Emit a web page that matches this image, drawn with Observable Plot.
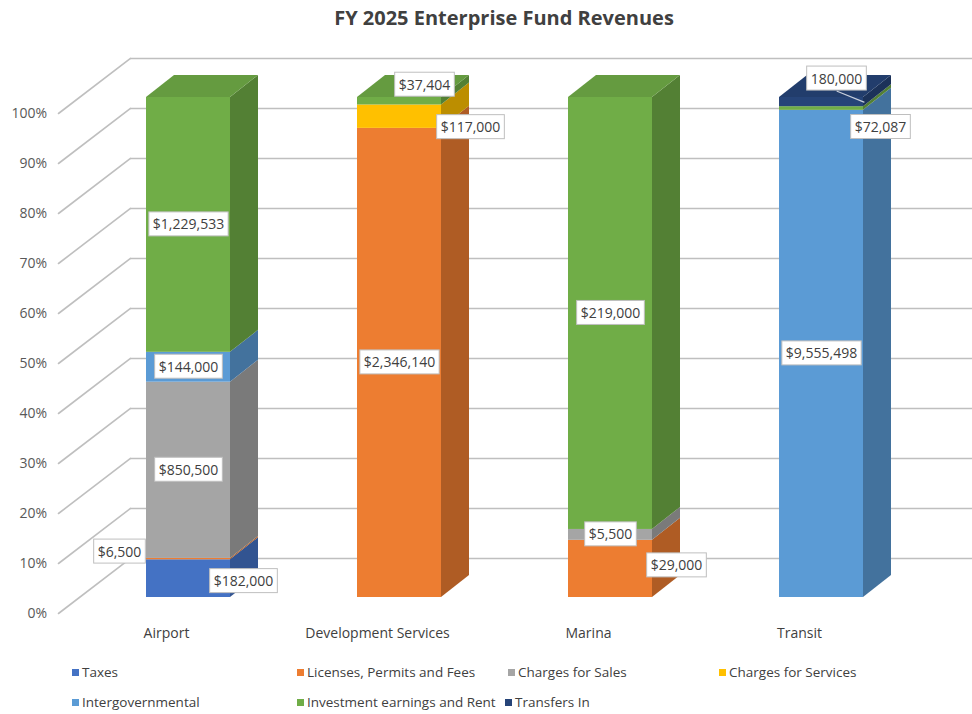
<!DOCTYPE html>
<html><head><meta charset="utf-8">
<script src="https://cdn.jsdelivr.net/npm/d3@7"></script>
<script src="https://cdn.jsdelivr.net/npm/@observablehq/plot@0.6"></script>
<style>
body{margin:0;background:#fff;overflow:hidden;font-family:"Open Sans",sans-serif;}
#title{width:972px;height:36px;box-sizing:border-box;padding-left:36px;text-align:center;font-weight:bold;font-size:20px;line-height:36px;color:#404040;}
#legend{position:relative;width:972px;height:58px;font-size:13.5px;color:#404040;}
.li{position:absolute;display:flex;align-items:center;white-space:nowrap;line-height:16px;}
.sw{width:7px;height:7px;margin-right:3px;}
</style></head><body>
<div id="title">FY 2025 Enterprise Fund Revenues</div>
<div id="chart"></div>
<div id="legend"></div>
<script>
// ---- data ----
const categories = ["Airport", "Development Services", "Marina", "Transit"];
const series = ["Taxes", "Licenses, Permits and Fees", "Charges for Sales", "Charges for Services",
  "Intergovernmental", "Investment earnings and Rent", "Transfers In"];
const airport = [182000, 6500, 850500, 0, 144000, 1229533, 0];
const developmentServices = [0, 2346140, 0, 117000, 0, 37404, 0];
const marina = [0, 29000, 5500, 0, 0, 219000, 0];
const transit = [0, 0, 0, 0, 9555498, 72087, 180000];
const yTicks = [0, 0.1, 0.2, 0.3, 0.4, 0.5, 0.6, 0.7, 0.8, 0.9, 1];
const colors = ["#4472C4", "#ED7D31", "#A5A5A5", "#FFC000", "#5B9BD5", "#70AD47", "#264478"];

// ---- label placement (offsets from segment centre, px) ----
const labelNudge = {
  "Airport|Taxes": [55, 3],
  "Airport|Licenses, Permits and Fees": [-69, -7],
  "Development Services|Investment earnings and Rent": [25, -16],
  "Development Services|Charges for Services": [71, 11],
  "Marina|Licenses, Permits and Fees": [66, -3],
  "Transit|Investment earnings and Rent": [59, 19],
  "Transit|Transfers In": [15, -23]
};
const legendLayout = [[72, 8], [297, 8], [508, 8], [719, 8], [72, 38], [297, 38], [505, 38]];

const byCategory = [airport, developmentServices, marina, transit];
const rows = [];
categories.forEach((c, ci) => series.forEach((s, si) => {
  const v = byCategory[ci][si];
  if (v > 0) rows.push({category: c, series: s, value: v,
    label: (s === "Transfers In" ? "" : "$") + d3.format(",")(v)});
}));
const key = d => d.category + "|" + d.series;

const D = 28, H = 22; // 3D depth
const grid = "#bfbfbf";

function faces3d(index, scales, values, dimensions, context, next) {
  const g = next(index, scales, values, dimensions, context);
  const ns = "http://www.w3.org/2000/svg";
  const rects = Array.from(g.querySelectorAll("rect"));
  const top = new Map();
  for (const r of rects) {
    const x = +r.getAttribute("x"), y = +r.getAttribute("y");
    if (!top.has(x) || y < top.get(x).y) top.set(x, {y, r});
  }
  for (const r of rects) {
    const x = +r.getAttribute("x"), y = +r.getAttribute("y");
    const w = +r.getAttribute("width"), h = +r.getAttribute("height");
    const fill = r.getAttribute("fill");
    const p = document.createElementNS(ns, "path");
    p.setAttribute("d", `M${x + w},${y + h}L${x + w + D},${y + h - H}L${x + w + D},${y - H}L${x + w},${y}Z`);
    p.setAttribute("fill", d3.color(fill).darker(0.85).formatHex());
    g.appendChild(p);
  }
  for (const {r} of top.values()) {
    const x = +r.getAttribute("x"), y = +r.getAttribute("y");
    const w = +r.getAttribute("width");
    const fill = r.getAttribute("fill");
    const p = document.createElementNS(ns, "path");
    p.setAttribute("d", `M${x},${y}L${x + D},${y - H}L${x + w + D},${y - H}L${x + w},${y}Z`);
    p.setAttribute("fill", d3.color(fill).darker(0.3).formatHex());
    g.appendChild(p);
  }
  return g;
}

const stackOpts = {x: "category", y: "value", z: "series", offset: "normalize", order: series};
const textStyle = {text: "label", fontSize: 14, fill: "#404040", className: "lbl"};

const labelMarks = [
  Plot.text(rows, Plot.filter(d => !labelNudge[key(d)], Plot.stackY({...stackOpts, ...textStyle})))
];
for (const k of Object.keys(labelNudge)) {
  const [dx, dy] = labelNudge[k];
  labelMarks.push(Plot.text(rows, Plot.filter(d => key(d) === k, Plot.stackY({...stackOpts, ...textStyle, dx, dy}))));
}

const chart = Plot.plot({
  width: 972,
  height: 620,
  marginTop: 61,
  marginBottom: 59,
  marginLeft: 81.5,
  marginRight: 44,
  style: {fontFamily: "Open Sans", background: "white"},
  x: {type: "band", domain: categories, paddingInner: 0.6, paddingOuter: 0.3, label: null},
  y: {domain: [0, 1], label: null},
  color: {domain: series, range: colors},
  marks: [
    Plot.ruleY(yTicks, {dx: 48.5, dy: -39, stroke: grid, strokeWidth: 1.6}),
    Plot.vector(yTicks, {y: d => d, frameAnchor: "left", anchor: "start", length: 90.6, rotate: 52.6,
      dx: -23.5, dy: 16, r: 0, stroke: grid, strokeWidth: 1.6}),
    Plot.axisY(yTicks, {tickFormat: d3.format(".0%"), tickSize: 0, tickPadding: 0, dx: -35, dy: 16,
      fontSize: 14, color: "#595959", label: null}),
    Plot.axisX({tickSize: 0, tickPadding: 31, dx: -22, fontSize: 14, color: "#404040", label: null}),
    Plot.barY(rows, Plot.stackY({...stackOpts, fill: "series", render: faces3d})),
    Plot.vector(rows, Plot.filter(d => key(d) === "Transit|Transfers In",
      Plot.stackY({...stackOpts, anchor: "start", length: 29, rotate: -68, dx: 42.5, r: 0,
        stroke: "#c8cfdc", strokeWidth: 1.2}))),
    ...labelMarks
  ]
});
document.getElementById("chart").appendChild(chart);

// white boxes behind data labels
for (const t of chart.querySelectorAll(".lbl text")) {
  const bb = t.getBBox();
  const r = document.createElementNS("http://www.w3.org/2000/svg", "rect");
  r.setAttribute("x", bb.x - 4);
  r.setAttribute("y", bb.y - 2.5);
  r.setAttribute("width", bb.width + 8);
  r.setAttribute("height", bb.height + 5);
  r.setAttribute("fill", "white");
  r.setAttribute("stroke", "#bfbfbf");
  r.setAttribute("stroke-width", 1);
  if (t.getAttribute("transform")) r.setAttribute("transform", t.getAttribute("transform"));
  t.parentNode.insertBefore(r, t);
}

// legend
const legend = document.getElementById("legend");
series.forEach((s, i) => {
  const el = document.createElement("div");
  el.className = "li";
  el.style.left = legendLayout[i][0] + "px";
  el.style.top = legendLayout[i][1] + "px";
  el.innerHTML = `<span class="sw" style="background:${colors[i]}"></span><span>${s}</span>`;
  legend.appendChild(el);
});
</script>
</body></html>
